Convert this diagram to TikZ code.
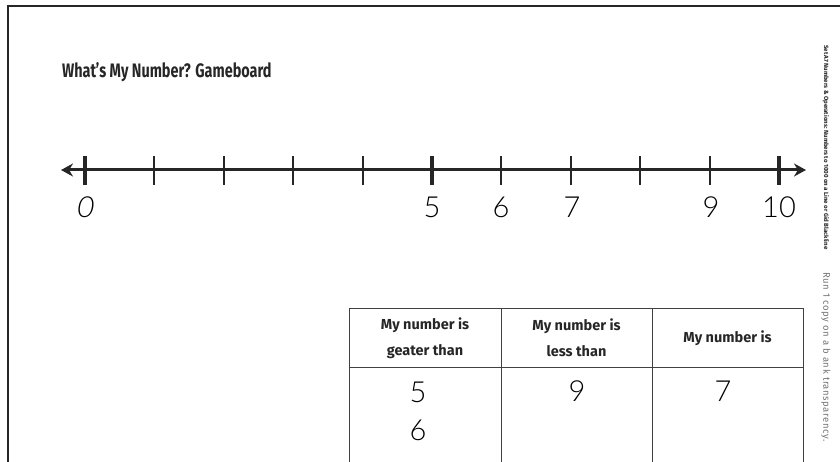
\documentclass[tikz,border=0pt]{standalone}
\usepackage{fontspec}
\setmainfont{Fira Sans}
\newfontfamily\hand{Lato Light}
\usetikzlibrary{arrows.meta}
\tikzset{
  frame/.style={line width=1.3pt, draw=black!85},
  nline/.style={line width=3pt, draw=black!85, {Stealth[length=12pt,width=13pt]}-{Stealth[length=12pt,width=13pt]}},
  tick/.style={line width=2pt, draw=black!85},
  bigtick/.style={line width=3.4pt, draw=black!85},
  numlab/.style={font=\hand\fontsize{29}{29}\selectfont, inner sep=0pt, anchor=center},
  tab/.style={line width=0.9pt, draw=black!75},
  head/.style={font=\bfseries\fontsize{14.5}{26}\selectfont, align=center, inner sep=0pt, text=black!85},
  side/.style={font=\bfseries\fontsize{6.1}{7}\selectfont, rotate=-90, inner sep=0pt, text=black!85},
  sidelight/.style={font=\fontsize{9.5}{9.5}\selectfont\addfontfeature{LetterSpace=6}, rotate=-90, inner sep=0pt, text=black!55},
}
\begin{document}
\begin{tikzpicture}[x=1pt,y=-1pt]
\useasboundingbox (0,0) rectangle (840,462);
% frame
\coordinate (fbl) at (8,462);
\coordinate (ftl) at (8,6);
\coordinate (ftr) at (840,6);
\draw[frame] (fbl) -- (ftl) -- (ftr);
% title
\node[font=\bfseries\fontsize{19.5}{19.5}\selectfont, xscale=0.74, anchor=west, inner sep=0pt, text=black!85] (title) at (62,72) {What’s My Number? Gameboard};
% number line
\coordinate (L) at (61,170);
\coordinate (R) at (806,170);
\draw[nline] (L) -- (R);
\foreach \i in {0,...,10}{
  \coordinate (t\i) at ({85+69.4*\i},170);
}
\foreach \i in {1,2,3,4,6,7,8,9}{
  \draw[tick] ([yshift=-15pt]t\i) -- ([yshift=14pt]t\i);
}
\foreach \i in {0,5,10}{
  \draw[bigtick] ([yshift=-15pt]t\i) -- ([yshift=14pt]t\i);
}
\node[numlab, xslant=0.15] (n0) at (86,207) {0};
\node[numlab] (n5) at (432,207) {5};
\node[numlab] (n6) at (501,207) {6};
\node[numlab] (n7) at (572,207) {7};
\node[numlab] (n9) at (711,207) {9};
\node[numlab] (n10) at (779,207) {10};
% table
\coordinate (a1) at (349,308); \coordinate (a2) at (501,308); \coordinate (a3) at (652,308); \coordinate (a4) at (803,308);
\coordinate (h1) at (349,367); \coordinate (h4) at (803,367);
\coordinate (b1) at (349,462); \coordinate (b2) at (501,462); \coordinate (b3) at (652,462); \coordinate (b4) at (803,462);
\draw[tab] (a1) -- (a4);
\draw[tab] (h1) -- (h4);
\draw[tab] (a1) -- (b1);
\draw[tab] (a2) -- (b2);
\draw[tab] (a3) -- (b3);
\draw[tab] (a4) -- (b4);
\node[head] (c1) at (425,338) {My number is\\geater than};
\node[head] (c2) at (576.5,338) {My number is\\less than};
\node[head] (c3) at (727.5,338) {My number is};
\node[numlab] (v5) at (418,392) {5};
\node[numlab] (v6) at (418,430) {6};
\node[numlab] (v9) at (577,391) {9};
\node[numlab] (v7) at (723,391) {7};
% side text
\node[side, anchor=west] (s1) at (826,45) {Set A7 Numbers \& Operations: Numbers to 1000 on a Line or Gid Blackline};
\node[sidelight, anchor=west] (s2) at (826,272) {Run 1 copy on a b ank transparency.};
\end{tikzpicture}
\end{document}
